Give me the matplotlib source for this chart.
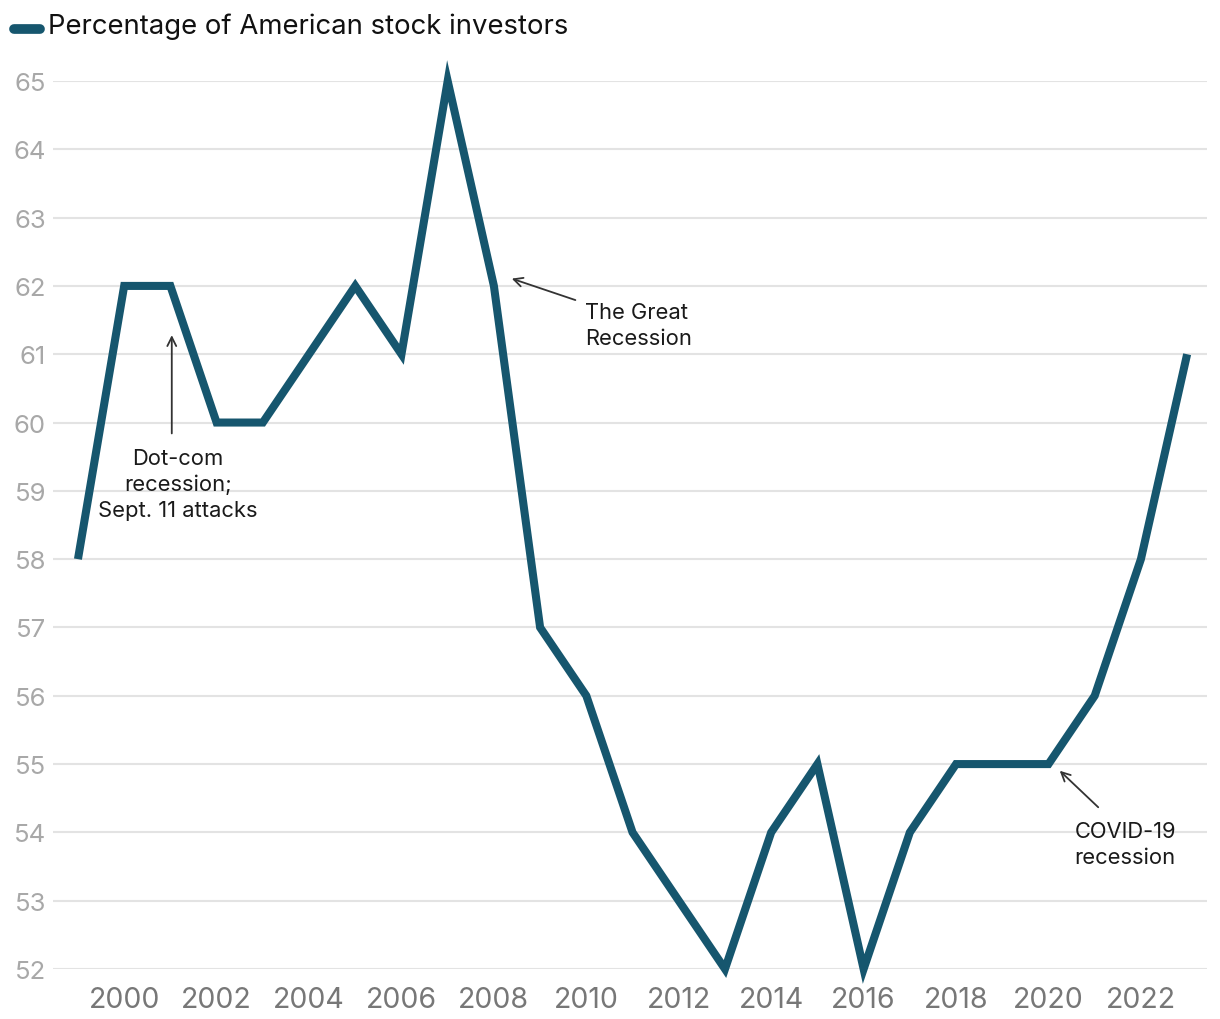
import matplotlib
matplotlib.use("Agg")
import matplotlib.pyplot as plt
from matplotlib.lines import Line2D

plt.rcParams['font.family'] = ['Inter', 'DejaVu Sans']

years = list(range(1999, 2024))
values = [58, 62, 62, 60, 60, 61, 62, 61, 65, 62, 57, 56, 54, 53, 52,
          54, 55, 52, 54, 55, 55, 55, 56, 58, 61]
x_ticks = list(range(2000, 2023, 2))
y_ticks = list(range(52, 66))
series_label = "Percentage of American stock investors"
line_color = "#16566e"

W, H = 1220, 1020
fig = plt.figure(figsize=(W / 100, H / 100), dpi=100)
left, right, top, bottom = 53, 1207, 82, 970
ax = fig.add_axes([left / W, 1 - bottom / H, (right - left) / W, (bottom - top) / H])

ax.plot(years, values, color=line_color, lw=5.8, solid_joinstyle='miter',
        solid_capstyle='butt', clip_on=False, zorder=3)
ax.set_xlim(1998.46, 2023.43)
ax.set_ylim(52, 65)
ax.set_yticks(y_ticks)
ax.set_xticks(x_ticks)
ax.grid(axis='y', color='#e3e3e3', lw=1.5)
ax.set_axisbelow(True)
for s in ax.spines.values():
    s.set_visible(False)
ax.tick_params(axis='y', length=0, pad=5, labelsize=18.5, labelcolor='#a8a8a8')
ax.tick_params(axis='x', length=0, pad=12, labelsize=20.5, labelcolor='#777777')

ann_kw = dict(fontsize=15.8, color='#1a1a1a', linespacing=1.36, va='center')
arrow = dict(arrowstyle='->', color='#333333', lw=1.3, mutation_scale=16)

ax.annotate('', xy=(2001.03, 61.32), xytext=(2001.03, 59.8), arrowprops=arrow)
ax.text(2001.16, 59.10, "Dot-com\nrecession;\nSept. 11 attacks", ha='center',
        multialignment='center', **ann_kw)

ax.annotate('', xy=(2008.33, 62.12), xytext=(2009.82, 61.78), arrowprops=arrow)
ax.text(2009.97, 61.43, "The Great\nRecession", ha='left', **ann_kw)

ax.annotate('', xy=(2020.2, 54.93), xytext=(2021.12, 54.34), arrowprops=arrow)
ax.text(2020.56, 53.83, "COVID-19\nrecession", ha='left', **ann_kw)

fig.add_artist(Line2D([14 / W, 40 / W], [1 - 30 / H, 1 - 30 / H], color=line_color,
                      lw=7, solid_capstyle='round', transform=fig.transFigure))
fig.text(48 / W, 1 - 27 / H, series_label, ha='left', va='center', fontsize=19.8, color='#111111')

fig.savefig("out.png", dpi=100, facecolor='white')
